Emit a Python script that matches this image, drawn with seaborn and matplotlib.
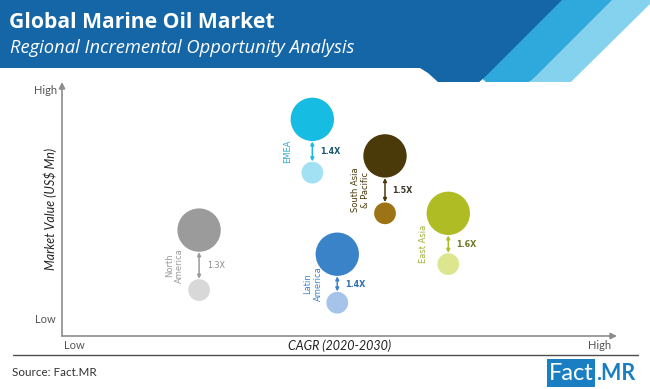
import matplotlib
matplotlib.use("Agg")
import matplotlib.pyplot as plt
import seaborn as sns
import pandas as pd
from matplotlib.patches import Polygon, Rectangle

# bubble chart data (index units, axes have no real scale)
regions = ["North America", "EMEA", "South Asia & Pacific", "East Asia", "Latin America"]
region_labels = ["North\nAmerica", "EMEA", "South Asia\n& Pacific", "East Asia", "Latin\nAmerica"]
cagr_index = [24.7, 45.1, 58.2, 69.6, 49.6]
value_2020 = [18.1, 64.3, 48.3, 28.3, 13.1]
value_2030 = [41.7, 85.3, 70.9, 48.3, 32.2]
multipliers = ["1.3X", "1.4X", "1.5X", "1.6X", "1.4X"]

colors_2030 = ["#9b9b9b", "#16bce2", "#4a3a0a", "#afbc23", "#3b83c9"]
colors_2020 = ["#d8d8d8", "#a2e1f3", "#9c7416", "#dce68f", "#a6c3e9"]
label_colors = ["#9a9a9a", "#2ba9cb", "#4a3a0a", "#a3ae3e", "#3b83c9"]
mult_colors = ["#8a8a8a", "#1d5873", "#3d3a2c", "#6e7a25", "#2f6eb3"]

title = "Global Marine Oil Market"
subtitle = "Regional Incremental Opportunity Analysis"
x_title = "CAGR (2020-2030)"
y_title = "Market Value (US$ Mn)"
source = "Source: Fact.MR"

sns.set_style("white")
plt.rcParams["font.family"] = ["Lato", "DejaVu Sans"]

rows = []
for i, r in enumerate(regions):
    rows.append({"region": r, "year": "2020", "cagr": cagr_index[i], "value": value_2020[i], "key": r + " 2020"})
    rows.append({"region": r, "year": "2030", "cagr": cagr_index[i], "value": value_2030[i], "key": r + " 2030"})
df = pd.DataFrame(rows)
palette = {}
for i, r in enumerate(regions):
    palette[r + " 2020"] = colors_2020[i]
    palette[r + " 2030"] = colors_2030[i]

fig = plt.figure(figsize=(6.5, 3.89), dpi=100)

# decoration layer in pixel coordinates
bg = fig.add_axes([0, 0, 1, 1])
bg.set_xlim(0, 650)
bg.set_ylim(389, 0)
bg.axis("off")
light = [(515, 0), (650, 0), (650, 4), (578, 75), (570, 83), (558, 87), (540, 87), (528, 80), (515, 68)]
mid = [(470, 0), (612, 0), (536, 76), (527, 84), (515, 87), (497, 87), (486, 82), (470, 68)]
dark = [(0, 0), (562, 0), (486, 76), (477, 84), (465, 87), (450, 87), (438, 82), (428, 73), (420, 68), (0, 68)]
bg.add_patch(Polygon(light, closed=True, color="#85d2ee", lw=0))
bg.add_patch(Polygon(mid, closed=True, color="#2fa8db", lw=0))
bg.add_patch(Polygon(dark, closed=True, color="#1566a7", lw=0))
bg.text(9, 28, title, color="white", fontsize=15.2, fontweight="bold", va="baseline", family="Open Sans")
bg.text(10, 53, subtitle, color="white", fontsize=13.2, style="italic", va="baseline", family="Open Sans")
bg.plot([13, 638], [355, 355], color="#4d4d4d", lw=1)
bg.text(12, 372, source, color="#333333", fontsize=8.4, va="center")
bg.add_patch(Rectangle((547, 359), 48, 28, color="#1a7fc2", lw=0))
bg.text(571, 374, "Fact", color="white", fontsize=17, ha="center", va="center")
bg.text(596, 374, ".MR", color="#1a7fc2", fontsize=15.5, fontweight="bold", ha="left", va="center")

ax = fig.add_axes([62 / 650, 53 / 389, 555 / 650, 254 / 389])
sns.scatterplot(data=df, x="cagr", y="value", hue="key", palette=palette,
                size="year", sizes={"2020": 245, "2030": 975}, size_order=["2030", "2020"],
                legend=False, linewidth=0, ax=ax)
ax.set_xlim(0, 100)
ax.set_ylim(0, 100)
ax.set_xticks([])
ax.set_yticks([])
ax.set_xlabel("")
ax.set_ylabel("")
for s in ax.spines.values():
    s.set_visible(False)

# axis arrows
axis_col = "#8c8c8c"
ax.annotate("", xy=(1, 0), xytext=(0, 0), xycoords="axes fraction",
            arrowprops=dict(arrowstyle="-|>", color=axis_col, lw=1.2, mutation_scale=9, shrinkA=0, shrinkB=0))
ax.annotate("", xy=(0, 1), xytext=(0, 0), xycoords="axes fraction",
            arrowprops=dict(arrowstyle="-|>", color=axis_col, lw=1.2, mutation_scale=9, shrinkA=0, shrinkB=0))
tk = dict(color="#555555", fontsize=8, transform=ax.transAxes, ha="center", va="center", clip_on=False)
ax.text(-0.03, 0.966, "High", **tk)
ax.text(-0.03, 0.063, "Low", **tk)
ax.text(0.022, -0.039, "Low", **tk)
ax.text(0.968, -0.039, "High", **tk)
ax.text(0.5, -0.039, x_title, color="#222222", fontsize=9, style="italic",
        transform=ax.transAxes, ha="center", va="center")
ax.text(-0.022, 0.5, y_title, color="#222222", fontsize=9, style="italic", rotation=90,
        transform=ax.transAxes, ha="center", va="center")

# growth arrows and labels
r_big = 975 ** 0.5 / 2
r_small = 245 ** 0.5 / 2
for i in range(len(regions)):
    x = cagr_index[i]
    ax.annotate("", xy=(x, value_2030[i]), xytext=(x, value_2020[i]),
                arrowprops=dict(arrowstyle="<|-|>", color=colors_2030[i] if i != 0 else "#999999",
                                lw=1.1, mutation_scale=5, shrinkA=r_small + 0.3, shrinkB=r_big + 0.3))
    ymid = (value_2020[i] + value_2030[i]) / 2
    ax.annotate(region_labels[i], xy=(x, ymid), xytext=(-17.5, -4), textcoords="offset points",
                rotation=90, ha="center", va="center", fontsize=6, color=label_colors[i],
                family="DejaVu Sans", linespacing=1.15)
    ax.annotate(multipliers[i], xy=(x, ymid), xytext=(5.5, -4), textcoords="offset points",
                ha="left", va="center", fontsize=5.8, color=mult_colors[i], family="DejaVu Sans",
                fontweight="normal" if i == 0 else "bold")

fig.savefig("out.png", dpi=100)
